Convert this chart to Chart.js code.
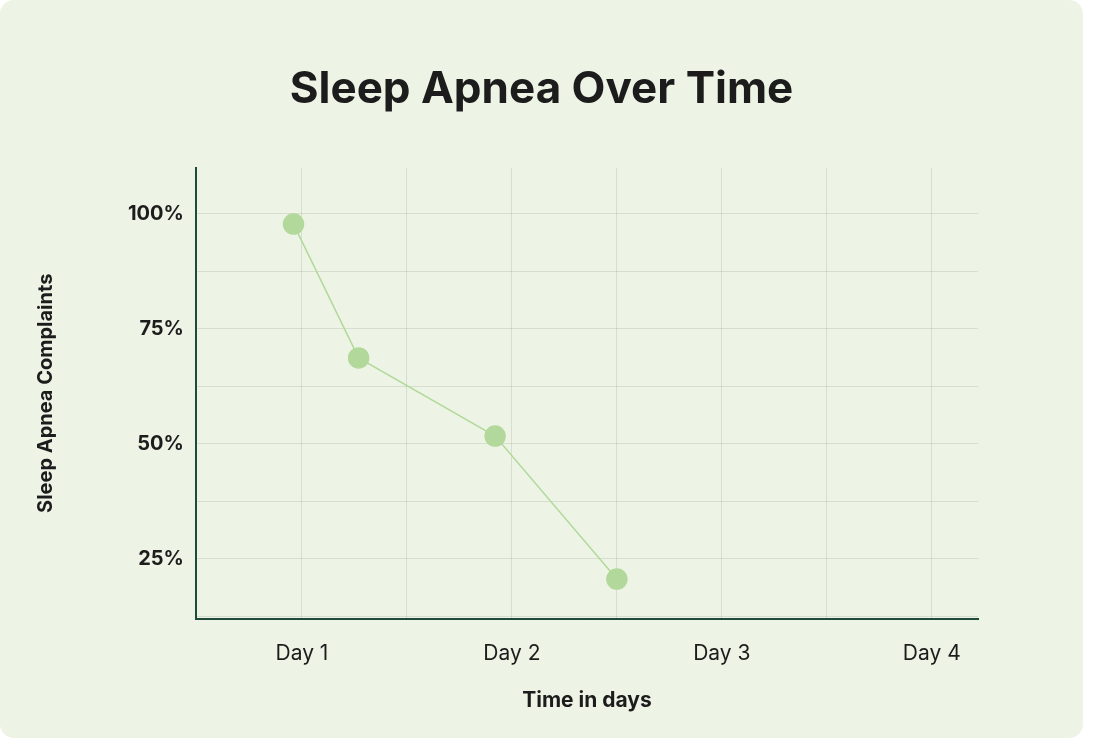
<!DOCTYPE html>
<html>
<head>
<meta charset="utf-8">
<script src="https://cdn.jsdelivr.net/npm/chart.js@4"></script>
<style>
  body { margin: 0; background: #ffffff; }
  .card { position: absolute; left: 0; top: 0; width: 1083px; height: 738px; background: #edf4e5; border-radius: 14px; }
  canvas { display: block; }
</style>
</head>
<body>
<div class="card"><canvas id="chart" width="1083" height="738"></canvas></div>
<script>
// values (x = day position, y = percent)
const dayPositions = [0.96, 1.27, 1.92, 2.5];
const complaintPct = [97.8, 68.7, 51.7, 20.6];
const dayLabels = ['Day 1', 'Day 2', 'Day 3', 'Day 4'];
const pctTicks = [25, 50, 75, 100];

const FONT = 'Inter, "DejaVu Sans", sans-serif';
const INK = '#1c1c1c';
const GRID = 'rgba(60, 80, 60, 0.13)';
const AXIS = '#1f4a3a';
const DOT = '#b2d99b';

// title centred on the whole card, not on the chart area
const centeredTitle = {
    id: 'centeredTitle',
    afterDraw(chart) {
        const ctx = chart.ctx;
        ctx.save();
        ctx.fillStyle = INK;
        ctx.font = 'bold 44px ' + FONT;
        ctx.textAlign = 'center';
        ctx.textBaseline = 'middle';
        ctx.fillText('Sleep Apnea Over Time', chart.width / 2, 90);
        ctx.restore();
    }
};

new Chart(document.getElementById('chart'), {
    type: 'line',
    data: {
        datasets: [{
            data: dayPositions.map((x, i) => ({ x: x, y: complaintPct[i] })),
            borderColor: DOT,
            borderWidth: 1.5,
            pointBackgroundColor: DOT,
            pointBorderColor: DOT,
            pointRadius: 10,
            tension: 0
        }]
    },
    plugins: [centeredTitle],
    options: {
        responsive: false,
        animation: false,
        layout: { padding: { left: 30, right: 105, top: 168, bottom: 21 } },
        plugins: {
            legend: { display: false },
            tooltip: { enabled: false },
            title: { display: false }
        },
        scales: {
            x: {
                type: 'linear',
                min: 0.495,
                max: 4.22,
                border: { color: AXIS, width: 2 },
                grid: { color: GRID, drawTicks: false },
                afterBuildTicks: axis => {
                    const t = [];
                    for (let v = 0.5; v <= 4.001; v += 0.5) t.push({ value: v });
                    axis.ticks = t;
                },
                ticks: {
                    color: INK,
                    padding: 22,
                    autoSkip: false,
                    maxRotation: 0,
                    font: { family: FONT, size: 21 },
                    callback: v => Number.isInteger(v) ? dayLabels[v - 1] : ''
                },
                title: {
                    display: true,
                    text: 'Time in days',
                    color: INK,
                    font: { family: FONT, size: 21, weight: 'bold' },
                    padding: { top: 0 }
                }
            },
            y: {
                min: 12,
                max: 110,
                border: { color: AXIS, width: 2 },
                grid: { color: GRID, drawTicks: false },
                afterBuildTicks: axis => {
                    const t = [];
                    for (let v = 12.5; v <= 100; v += 12.5) t.push({ value: v });
                    axis.ticks = t;
                },
                ticks: {
                    color: INK,
                    padding: 12,
                    autoSkip: false,
                    font: { family: FONT, size: 20, weight: 'bold' },
                    callback: v => pctTicks.includes(v) ? v + '%' : ''
                },
                title: {
                    display: true,
                    text: 'Sleep Apnea Complaints',
                    color: INK,
                    font: { family: FONT, size: 20, weight: 'bold' },
                    padding: { bottom: 58 }
                }
            }
        }
    }
});
</script>
</body>
</html>
